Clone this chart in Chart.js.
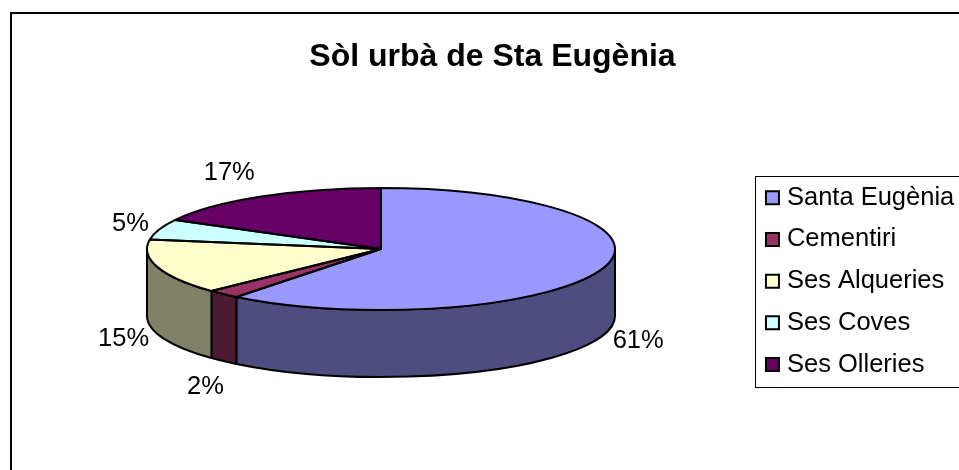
<!DOCTYPE html>
<html>
<head>
<meta charset="utf-8">
<title>Sòl urbà de Sta Eugènia</title>
<script src="https://cdn.jsdelivr.net/npm/chart.js@4/dist/chart.umd.min.js"></script>
<style>
    html, body { margin: 0; padding: 0; background: #fff; overflow: hidden; }
    #chartWrap { width: 959px; height: 470px; }
</style>
</head>
<body>
<div id="chartWrap"><canvas id="pieChart" width="959" height="470"></canvas></div>
<script>
// Data
const categories = ['Santa Eugènia', 'Cementiri', 'Ses Alqueries', 'Ses Coves', 'Ses Olleries'];
const shares = [60.6, 2.3, 14.6, 5.4, 17.1];
const topColors = ['#9999FF', '#993366', '#FFFFCC', '#CCFFFF', '#660066'];
const sideColors = ['#4D4D80', '#4D1A33', '#808066', '#668080', '#330033'];

// Layout of the tilted pie
const PIE_X = 381;
const PIE_Y = 249;
const PIE_RX = 234;
const PIE_RY = 61;
const PIE_DEPTH = 67;
const FONT = '"Liberation Sans", Arial, sans-serif';

// Label nudge from the rim point at each slice's middle angle
const labelNudge = [[36, 5], [-18, 26], [-34, 5], [-29, -5], [-32, -24]];

function slicePath(ctx, arc) {
    ctx.beginPath();
    ctx.moveTo(PIE_X, PIE_Y);
    ctx.ellipse(PIE_X, PIE_Y, PIE_RX, PIE_RY, 0, arc.startAngle, arc.endAngle);
    ctx.closePath();
}

// Walls are only visible on the front half of the ellipse
function drawSide(ctx, arc, color) {
    const from = Math.max(arc.startAngle, 0);
    const to = Math.min(arc.endAngle, Math.PI);
    if (to <= from) return;
    ctx.beginPath();
    ctx.ellipse(PIE_X, PIE_Y, PIE_RX, PIE_RY, 0, from, to);
    ctx.ellipse(PIE_X, PIE_Y + PIE_DEPTH, PIE_RX, PIE_RY, 0, to, from, true);
    ctx.closePath();
    ctx.fillStyle = color;
    ctx.fill();
    ctx.stroke();
}

const tiltedPie = {
    id: 'tiltedPie',
    afterLayout(chart) {
        // Legend and title sit off the spots Chart.js gives them
        const legend = chart.legend;
        legend.left = 754.5;
        legend.right = 1100;
        legend.top = 168.8;
        legend.bottom = 470;
        chart.titleBlock.left += 13;
        chart.titleBlock.right += 13;
    },
    beforeDraw(chart) {
        const ctx = chart.ctx;
        ctx.save();
        ctx.fillStyle = '#fff';
        ctx.fillRect(0, 0, chart.width, chart.height);
        ctx.strokeStyle = '#000';
        ctx.lineWidth = 2;
        ctx.strokeRect(11, 13, 1000, 500);
        ctx.lineWidth = 1;
        ctx.strokeRect(755.5, 176.5, 300, 211);
        ctx.restore();
    },
    beforeDatasetsDraw(chart) {
        const ctx = chart.ctx;
        const arcs = chart.getDatasetMeta(0).data;
        ctx.save();
        ctx.strokeStyle = '#000';
        ctx.lineWidth = 2;
        ctx.lineJoin = 'round';
        arcs.forEach((arc, i) => drawSide(ctx, arc, sideColors[i]));
        ctx.restore();

        // Squash the flat pie into the top face
        ctx.save();
        ctx.translate(PIE_X, PIE_Y);
        ctx.scale(1, PIE_RY / PIE_RX);
        ctx.translate(-arcs[0].x, -arcs[0].y);
    },
    afterDatasetsDraw(chart) {
        const ctx = chart.ctx;
        const arcs = chart.getDatasetMeta(0).data;
        ctx.restore();

        ctx.save();
        ctx.strokeStyle = '#000';
        ctx.lineWidth = 2;
        ctx.lineJoin = 'round';
        arcs.forEach(arc => {
            slicePath(ctx, arc);
            ctx.stroke();
        });

        // Percent labels
        ctx.fillStyle = '#000';
        ctx.font = '25.5px ' + FONT;
        ctx.textAlign = 'center';
        ctx.textBaseline = 'middle';
        arcs.forEach((arc, i) => {
            const mid = (arc.startAngle + arc.endAngle) / 2;
            let x = PIE_X + PIE_RX * Math.cos(mid);
            let y = PIE_Y + PIE_RY * Math.sin(mid);
            if (Math.sin(mid) > 0) y += PIE_DEPTH;
            ctx.fillText(Math.round(shares[i]) + '%', x + labelNudge[i][0], y + labelNudge[i][1]);
        });
        ctx.restore();
    }
};

new Chart(document.getElementById('pieChart'), {
    type: 'pie',
    data: {
        labels: categories,
        datasets: [{
            data: shares,
            backgroundColor: topColors,
            borderWidth: 0,
            radius: PIE_RX
        }]
    },
    options: {
        responsive: false,
        animation: false,
        plugins: {
            title: {
                display: true,
                text: 'Sòl urbà de Sta Eugènia',
                color: '#000',
                font: { family: FONT, size: 32, weight: 'bold' },
                padding: { top: 38, bottom: 10 }
            },
            legend: {
                position: 'right',
                align: 'start',
                labels: {
                    color: '#000',
                    font: { family: FONT, size: 25.5 },
                    // point style keeps the swatch square while the text sits close to it
                    usePointStyle: true,
                    pointStyle: 'rect',
                    boxWidth: 3.5,
                    boxHeight: 13,
                    padding: 16.2,
                    generateLabels(chart) {
                        const items = Chart.overrides.pie.plugins.legend.labels.generateLabels(chart);
                        items.forEach(item => {
                            item.strokeStyle = '#000';
                            item.lineWidth = 2;
                        });
                        return items;
                    }
                }
            },
            tooltip: { enabled: false }
        }
    },
    plugins: [tiltedPie]
});
</script>
</body>
</html>
